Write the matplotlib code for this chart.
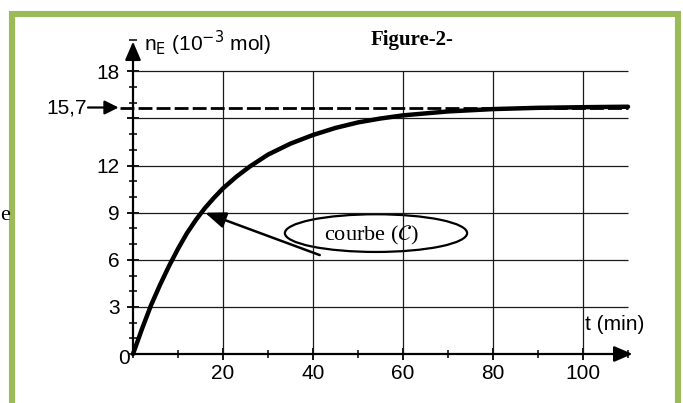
import matplotlib
matplotlib.use("Agg")
import matplotlib.pyplot as plt
from matplotlib import font_manager
from matplotlib.patches import Ellipse, Rectangle
from matplotlib.ticker import MultipleLocator

# values
t_min = [0, 2, 4, 6, 8, 10, 12, 14, 16, 18, 20, 23, 26, 30, 35, 40,
         45, 50, 55, 60, 70, 80, 90, 100, 110]
n_e = [0, 1.6, 3.1, 4.4, 5.6, 6.7, 7.7, 8.55, 9.3, 9.95, 10.55, 11.3, 11.95, 12.7, 13.4, 13.95,
       14.4, 14.75, 15.0, 15.2, 15.45, 15.6, 15.68, 15.72, 15.75]
n_lim = 15.7
x_ticks = [20, 40, 60, 80, 100]
y_ticks = [3, 6, 9, 12, 15, 18]
y_labels = ['3', '6', '9', '12', '', '18']

names = {f.name for f in font_manager.fontManager.ttflist}
narrow = 'Liberation Sans Narrow' if 'Liberation Sans Narrow' in names else 'Liberation Sans'
serif = 'Liberation Serif'

fig = plt.figure(figsize=(6.83, 4.03), dpi=100)
fig.patches.append(Rectangle((12 / 683, -0.05), 666 / 683, 1.05 - 13.5 / 403,
                             transform=fig.transFigure, fill=False,
                             edgecolor='#9bbb59', lw=4.4))
fig.text(0.5 / 683, 1 - 215 / 403, 'e', family=serif, fontsize=16, va='center')

ax = fig.add_axes([133 / 683, 49 / 403, 504 / 683, 314 / 403])
ax.set_xlim(0, 112)
ax.set_ylim(0, 20)
for s in ax.spines.values():
    s.set_visible(False)

# grid
ax.hlines(y_ticks, 0, 110, color='#1a1a1a', lw=0.9)
ax.vlines(x_ticks, 0, 18, color='#1a1a1a', lw=0.9)

# axes with arrows
arrow = dict(arrowstyle='-|>,head_length=0.7,head_width=0.3', lw=1.6, color='k',
             shrinkA=0, shrinkB=0, mutation_scale=16)
ax.annotate('', xy=(111, 0), xytext=(0, 0), arrowprops=arrow, annotation_clip=False)
ax.annotate('', xy=(0, 19.9), xytext=(0, 0), arrowprops=arrow, annotation_clip=False)

ax.set_xticks(x_ticks)
ax.set_yticks(y_ticks)
ax.set_yticklabels(y_labels)
ax.xaxis.set_minor_locator(MultipleLocator(10))
ax.yaxis.set_minor_locator(MultipleLocator(1))
ax.tick_params(which='major', direction='inout', length=9, width=1.3, labelsize=15)
ax.tick_params(which='minor', direction='inout', length=6, width=1.1)
ax.tick_params(axis='y', pad=5)
ax.tick_params(axis='x', pad=3)
for lab in ax.get_xticklabels() + ax.get_yticklabels():
    lab.set_family(narrow)
ax.text(-0.6, -0.3, '0', family=narrow, fontsize=15, ha='right', va='center')

# limit value 15,7
ax.hlines(n_lim, -3, 110, color='k', lw=2, linestyles=(0, (5, 1.5)), clip_on=False)
ax.annotate('', xy=(-3.2, n_lim), xytext=(-10, n_lim), annotation_clip=False,
            arrowprops=dict(arrowstyle='-|>,head_length=0.6,head_width=0.3', lw=1.6,
                            color='k', shrinkA=0, shrinkB=0, mutation_scale=14))
ax.text(-10.2, n_lim, '15,7', family=narrow, fontsize=15, ha='right', va='center')

# curve
ax.plot(t_min, n_e, color='k', lw=3.2, clip_on=False, solid_capstyle='round',
        solid_joinstyle='round')

# labels
ax.text(2.5, 19.8, r'n$_\mathrm{E}$ (10$^{-3}$ mol)', family=narrow, fontsize=15,
        ha='left', va='center')
ax.text(100.4, 1.9, 't (min)', family=narrow, fontsize=15, ha='left', va='center')
fig.text(412 / 683, 1 - 40 / 403, 'Figure-2-', family=serif, fontweight='bold',
         fontsize=15, ha='center', va='center')

# annotation "courbe (C)"
ax.add_patch(Ellipse((54, 7.7), 40.5, 2.4, fill=False, lw=1.6, color='k'))
ax.text(53, 7.55, r'courbe ($\mathcal{C}$)', family=serif, fontsize=16,
        ha='center', va='center')
ax.annotate('', xy=(16, 9), xytext=(41.5, 6.3),
            arrowprops=dict(arrowstyle='-|>,head_length=0.9,head_width=0.35', lw=1.8,
                            color='k', shrinkA=0, shrinkB=0, mutation_scale=14))

fig.savefig('out.png', dpi=100)
